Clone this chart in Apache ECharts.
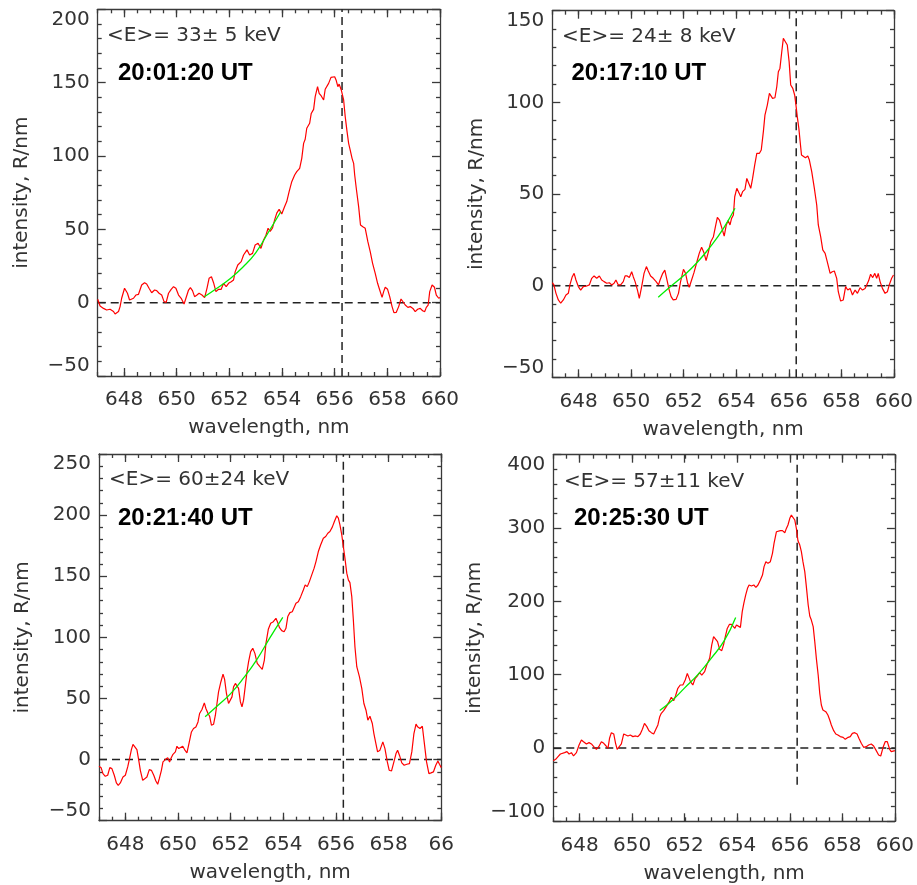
<!DOCTYPE html>
<html><head><meta charset="utf-8">
<script src="https://cdn.jsdelivr.net/npm/echarts@6/dist/echarts.min.js"></script>
<style>html,body{margin:0;padding:0;background:#fff}#c{width:917px;height:885px}</style>
</head><body><div id="c"></div>
<script>
// ---------- DATA ----------
const wl1 = [647.0,647.09,647.22,647.34,647.47,647.6,647.66,647.79,647.85,647.91,648.02,648.07,648.13,648.21,648.27,648.36,648.45,648.55,648.67,648.78,648.86,648.95,649.05,649.16,649.24,649.33,649.43,649.52,649.6,649.69,649.79,649.88,649.97,650.07,650.17,650.28,650.35,650.45,650.52,650.6,650.68,650.77,650.85,650.96,651.06,651.15,651.23,651.32,651.4,651.49,651.59,651.69,651.78,651.88,651.97,652.07,652.16,652.22,652.32,652.45,652.54,652.67,652.77,652.88,652.98,653.09,653.2,653.3,653.39,653.47,653.55,653.64,653.72,653.8,653.89,653.99,654.1,654.18,654.27,654.37,654.48,654.56,654.67,654.75,654.82,654.88,654.94,655.05,655.11,655.2,655.26,655.35,655.41,655.49,655.58,655.64,655.7,655.77,655.86,655.93,656.0,656.06,656.12,656.17,656.25,656.34,656.4,656.47,656.53,656.59,656.66,656.72,656.76,656.82,656.91,656.98,657.07,657.16,657.26,657.35,657.44,657.54,657.63,657.71,657.8,657.86,657.92,658.01,658.09,658.18,658.25,658.34,658.43,658.52,658.59,658.68,658.78,658.87,658.97,659.06,659.15,659.25,659.34,659.42,659.48,659.55,659.61,659.7,659.79,659.86,659.95,660.0];
const int1 = [2.3,-2.3,-3.9,-5,-4.5,-6,-7.7,-6,-2.7,3,9.8,10.5,6.4,1.8,0.7,3,5.2,5.7,12,13.6,12.7,9.8,6.8,8.6,8.2,6.4,5.2,0.7,0.2,6.4,9.1,10.9,9.8,5.2,3,-0.9,3,8.6,10.2,8.2,4.1,5.2,6.4,5.2,3.4,9.8,16.6,17.7,13.6,7.5,9.1,9.1,13.2,10.9,13.2,14.3,15.5,21,25.7,28,32.5,36,32.5,33.6,39.3,40.5,37,42.7,46,50.7,48.5,51,56.4,61,63.6,60.5,65.5,68.9,75.7,82.5,87,89.3,91.6,98.4,108.6,111.4,118.9,122.3,129,131.8,140.5,147.3,142.7,140.9,138.2,145.5,144.5,149.5,153.6,152.3,154,151.4,147.3,149,145,138.2,126.8,116.6,108.6,104,98.4,95,87,78,65.5,53,51.8,50.7,41.6,34.8,26.8,20,13.2,8.6,3.6,7.5,10.5,9.1,4.1,-2.7,-6.8,-6.6,-2.7,2.5,2.3,-1.6,-3.2,-2.7,-3.9,-6.1,-4.5,-3.9,-5.5,-6.1,-3.2,-1.6,7.5,12,10.5,5.2,3,3.6];

const wl2 = [647.0,647.06,647.14,647.23,647.32,647.42,647.52,647.61,647.67,647.76,647.83,647.9,647.99,648.08,648.18,648.31,648.41,648.5,648.59,648.69,648.79,648.88,648.97,649.07,649.17,649.26,649.35,649.42,649.51,649.6,649.7,649.77,649.85,649.93,650.02,650.08,650.15,650.24,650.31,650.4,650.49,650.58,650.65,650.74,650.84,650.95,651.04,651.1,651.19,651.28,651.35,651.44,651.52,651.6,651.71,651.8,651.88,651.99,652.07,652.15,652.21,652.3,652.39,652.45,652.52,652.59,652.68,652.77,652.85,652.94,653.03,653.13,653.22,653.28,653.36,653.46,653.54,653.62,653.69,653.76,653.82,653.89,653.94,654.02,654.08,654.17,654.24,654.33,654.4,654.46,654.55,654.62,654.7,654.78,654.88,654.95,655.03,655.09,655.18,655.26,655.32,655.38,655.47,655.54,655.6,655.66,655.73,655.79,655.85,655.94,656.01,656.07,656.15,656.22,656.27,656.32,656.38,656.43,656.48,656.53,656.63,656.72,656.78,656.87,656.97,657.06,657.12,657.21,657.29,657.38,657.46,657.57,657.65,657.73,657.82,657.88,657.97,658.07,658.16,658.24,658.33,658.42,658.52,658.61,658.71,658.8,658.9,658.96,659.03,659.11,659.19,659.27,659.34,659.4,659.47,659.56,659.66,659.75,659.82,659.91,659.98];
const int2 = [1.6,0.4,-4.2,-7.8,-9.6,-7.8,-5.1,-4.2,0.4,4.9,6.7,3.1,-0.5,-2.4,-0.5,-0.2,0.4,4,5.3,4,5.3,3.1,2.2,1.3,1.6,0.4,1.3,3.1,0.4,0.4,2.2,5.3,5.3,4.5,7.6,4.9,2.2,-2.4,-6.9,-0.5,6.7,10.4,8,5.3,4,2.2,0.4,3.1,6.4,8.5,4,-2,-6,-7.8,-7.5,-4.2,2.2,8.9,6.7,1.3,-0.9,3.1,7.1,6.4,14,17.6,20.9,18,13.6,18.5,24,26.7,33.1,37.3,35.8,31,27,33.1,35.5,33.1,36.7,38.5,48.5,53.1,54,48.5,51.3,52.5,58.5,57.6,53.1,58.5,65.8,72.2,72.2,74,84,93,98.5,104.9,104,102.2,102.5,108.5,116.7,118.5,127.6,134.9,133.5,131.3,122.2,109.5,107.6,104,98.5,92.2,85.8,78.5,71.3,70.4,69.8,70.7,68.5,62.2,53.1,44,33.1,26.7,19.5,17.6,13.1,6.7,7.6,8,4,-3.3,-8.4,-7.8,-0.5,-2.4,-1.5,-5.1,-2.4,-4.2,-1.1,-2.4,-1.5,-0.5,2.5,6.2,4.4,6.7,4,6.7,2.2,-1.5,-4.2,-3.3,0.4,4,5.8];

const wl3 = [647.0,647.08,647.15,647.24,647.33,647.41,647.49,647.58,647.66,647.73,647.81,647.91,648.0,648.09,648.16,648.23,648.29,648.35,648.44,648.51,648.57,648.66,648.73,648.82,648.91,648.99,649.08,649.16,649.23,649.29,649.37,649.43,649.52,649.61,649.68,649.73,649.81,649.9,649.96,650.03,650.09,650.18,650.25,650.34,650.43,650.51,650.59,650.68,650.76,650.82,650.91,651.0,651.06,651.14,651.2,651.27,651.35,651.42,651.48,651.54,651.63,651.71,651.77,651.84,651.92,651.99,652.05,652.11,652.18,652.24,652.3,652.37,652.43,652.49,652.56,652.62,652.68,652.76,652.84,652.92,653.01,653.11,653.2,653.28,653.34,653.43,653.52,653.62,653.72,653.79,653.85,653.94,654.03,654.1,654.17,654.25,654.34,654.41,654.48,654.57,654.66,654.76,654.83,654.91,654.99,655.08,655.17,655.24,655.33,655.42,655.52,655.61,655.69,655.77,655.86,655.94,656.03,656.09,656.15,656.22,656.28,656.34,656.41,656.47,656.53,656.6,656.66,656.72,656.79,656.89,656.98,657.06,657.14,657.21,657.29,657.38,657.44,657.52,657.58,657.67,657.78,657.86,657.95,658.02,658.11,658.2,658.28,658.34,658.41,658.5,658.59,658.69,658.79,658.88,658.96,659.04,659.1,659.19,659.28,659.35,659.44,659.53,659.61,659.7,659.79,659.87,659.93,660.0];
const int3 = [-5.5,-6.6,-11.5,-13.7,-12.8,-6.6,-7.4,-12.8,-19.1,-21.1,-19.1,-14.2,-12.8,-6,0.8,8.2,12.5,11.7,8.2,-0.6,-8.8,-17,-17.5,-14.2,-8.2,-8.8,-12.8,-17.5,-20.2,-15.6,-8.8,-1.9,0,1.6,-1.9,0.8,4.3,6.3,10.9,9,10.4,10.9,8.2,5.4,14.4,22.6,25.4,26.7,30.8,37.7,41,46.4,41.8,37.7,35.5,28.1,28.9,36.3,45.9,55.4,63.7,69.9,65.6,54.1,45.9,44.5,51.3,59.5,62.3,61.7,58.2,47.2,43.1,48.6,60.9,71.8,80,88.3,91,86.9,78.7,76,73.8,81.4,95.1,106.6,111.5,112.8,115.6,112,108.2,105.5,104.6,107.4,117,120.2,121,122.4,127.9,129.2,133.3,138.8,142.9,141.5,145.6,151.1,156.6,162,170.2,175.7,181.1,182.5,185.2,186.6,190.2,194.8,199.5,197.5,192,183.9,174.3,164.8,152.5,147,144.8,133.3,114.2,92.3,76,67.8,58.2,45.9,40.4,32.2,35.5,29.5,21.3,12.6,6.3,7.7,14.5,9,-1.9,-8.7,-9.3,-1.9,4.9,7.7,3.6,-2.7,-4.6,-3.8,-3.3,6.3,21.3,29,26.8,25.4,27.3,14.5,-1.9,-11.5,-10.9,-10.1,-4.6,-1.1,-3.8,-6.6];

const wl4 = [647.0,647.09,647.18,647.27,647.34,647.43,647.52,647.6,647.69,647.77,647.88,647.98,648.07,648.15,648.26,648.36,648.45,648.54,648.64,648.73,648.83,648.92,649.01,649.08,649.14,649.21,649.3,649.37,649.43,649.5,649.59,649.68,649.75,649.84,649.93,650.03,650.13,650.22,650.31,650.39,650.47,650.56,650.64,650.73,650.82,650.89,650.98,651.05,651.11,651.2,651.3,651.39,651.49,651.58,651.65,651.74,651.83,651.93,652.02,652.1,652.16,652.22,652.31,652.4,652.48,652.57,652.65,652.76,652.84,652.95,653.03,653.1,653.17,653.25,653.33,653.41,653.48,653.55,653.62,653.7,653.78,653.85,653.91,653.97,654.03,654.12,654.19,654.25,654.32,654.39,654.45,654.54,654.63,654.71,654.79,654.88,654.96,655.02,655.09,655.17,655.26,655.34,655.4,655.49,655.55,655.64,655.72,655.81,655.87,655.93,656.0,656.06,656.12,656.19,656.25,656.31,656.38,656.44,656.5,656.57,656.63,656.7,656.76,656.82,656.89,656.95,657.01,657.08,657.14,657.2,657.26,657.37,657.45,657.52,657.58,657.67,657.75,657.83,657.92,658.03,658.11,658.22,658.3,658.38,658.47,658.56,658.63,658.72,658.81,658.91,659.0,659.1,659.19,659.29,659.38,659.46,659.55,659.63,659.71,659.8,659.86,659.93,660.0];
const int4 = [-17.3,-15.5,-11.8,-8.2,-9.5,-6.4,-5,-8.2,-6.4,-10.9,-6.4,4.1,10.9,8.6,5.5,7.3,5.5,1.8,-1.8,1.8,8.6,6.4,2.7,-0.5,13.2,20.9,19.1,6.4,-1.8,-1.8,5.5,19.1,20.9,16.4,17.7,15.5,16.4,15.5,19.1,25.5,33.6,29.1,23.6,20.9,19.1,24.5,31.4,42.7,47.3,50.9,56.4,61.8,69.1,64.5,70.9,81.4,85.9,85.9,92.7,101.8,99.5,90.5,85.9,95,98.2,102.7,99.5,104.1,113.2,122.3,140.5,151.8,154.1,145,134.5,132.7,141,152.5,163,168.5,168.6,166,163.2,167.7,165.5,164.5,185.9,197.3,208.6,217.7,222.3,220.9,222.3,219.1,222.3,229.1,235.9,247.3,254.1,251.8,254.1,265.5,279.1,294.9,297.3,296.4,296.4,293.6,299.5,304.1,313.2,317.7,316.4,310.9,299.5,282.7,276.8,267.7,254.1,240.5,220,195,180,174.5,165.5,145,122.3,99.5,74.5,58.6,51.8,49.5,45,38.2,31.4,23.6,19.1,17.7,15.5,14.5,11.8,14.5,15.5,20,20.9,19.1,13.2,6.4,0.9,1.8,4.1,5.5,2.7,-3.6,-9.5,-10.9,0.9,8.6,8.6,-1.8,-5,-2.7,-3.6];

// green fitted curves
const fitWl1 = [651.05,651.5,652.0,652.5,653.0,653.5,653.95];
const fitInt1 = [4,9.5,16,24,34,48.5,62];
const fitWl2 = [651.03,651.5,652.0,652.5,653.0,653.5,653.95];
const fitInt2 = [-6.3,-0.5,5.5,12.5,21,31,42.2];
const fitWl3 = [651.03,651.5,652.0,652.5,653.0,653.5,653.98];
const fitInt3 = [35,44,54,67,82,100,116.4];
const fitWl4 = [651.05,651.5,652.0,652.5,653.0,653.5,653.94];
const fitInt4 = [51,64,82,100,122,146,178];

const xMin = 647, xMax = 660;
const xTickValues = [648,650,652,654,656,658,660];
const xTickLabels = [
  ['648','650','652','654','656','658','660'],
  ['648','650','652','654','656','658','660'],
  ['648','650','652','654','656','658','66'],
  ['648','650','652','654','656','658','660']
];
const xMinorStep = 0.5;
const yMins = [-50,-50,-50,-100];
const yMaxs = [200,150,250,400];
const ySteps = [50,50,50,100];
const energyLabels = ['<E>= 33± 5 keV','<E>= 24± 8 keV','<E>= 60±24 keV','<E>= 57±11 keV'];
const timeLabels = ['20:01:20 UT','20:17:10 UT','20:21:40 UT','20:25:30 UT'];
const refWavelength = 656.28;
const refLineLow = [-50,-50,-50,-50];
const refLineHigh = [200,150,250,400];
const xAxisName = 'wavelength, nm';
const yAxisName = 'intensity, R/nm';

// ---------- LAYOUT / STYLE ----------
const boxes = [
  {left:97.7, top:9.3, width:342.3, height:366.7},
  {left:552.3, top:10.7, width:341.7, height:366.6},
  {left:99, top:454, width:342.3, height:366.7},
  {left:553.3, top:454.7, width:342, height:366.6}
];
const textPos = [
  {ex:107, ey:36, tx:118, ty:73.5},
  {ex:562, ey:37, tx:571.5, ty:73.5},
  {ex:109, ey:480, tx:118, ty:518.5},
  {ex:564, ey:481.5, tx:574, ty:518.5}
];
const axisColor = '#3a3a3a';
const labelFont = 'DejaVu Sans';
const lineStyleAxis = {color: axisColor, width: 1.3};
const dashStyle = {color:'#222', width:1.5, type:[8,5]};
const minus = v => (v < 0 ? '\u2212' + Math.abs(v) : String(v));

const allWl = [wl1, wl2, wl3, wl4];
const allInt = [int1, int2, int3, int4];
const allFitWl = [fitWl1, fitWl2, fitWl3, fitWl4];
const allFitInt = [fitInt1, fitInt2, fitInt3, fitInt4];

const grid = [], xAxis = [], yAxis = [], series = [], graphic = [];
for (let i = 0; i < 4; i++) {
  const b = boxes[i];
  grid.push(Object.assign({containLabel:false}, b));
  grid.push(Object.assign({containLabel:false}, b));
  const gMain = 2*i, gMinor = 2*i + 1;
  const labels = xTickLabels[i];
  xAxis.push({
    type:'value', gridIndex:gMain, position:'bottom', min:xMin, max:xMax,
    axisLine:{show:true, onZero:false, lineStyle:lineStyleAxis},
    axisTick:{show:true, inside:true, length:8, customValues:xTickValues, lineStyle:lineStyleAxis},
    axisLabel:{show:true, customValues:xTickValues, margin:14, color:'#333', fontSize:20, fontFamily:labelFont,
      formatter: v => { const k = xTickValues.indexOf(Math.round(v)); return k >= 0 ? labels[k] : ''; }},
    splitLine:{show:false},
    name:xAxisName, nameLocation:'middle', nameGap:42,
    nameTextStyle:{color:'#333', fontSize:20, fontFamily:labelFont}
  });
  xAxis.push({
    type:'value', gridIndex:gMain, position:'top', min:xMin, max:xMax,
    axisLine:{show:true, onZero:false, lineStyle:lineStyleAxis},
    axisTick:{show:true, inside:true, length:8, customValues:xTickValues, lineStyle:lineStyleAxis},
    axisLabel:{show:false}, splitLine:{show:false}
  });
  xAxis.push({
    type:'value', gridIndex:gMinor, position:'bottom', min:xMin, max:xMax, interval:xMinorStep,
    axisLine:{show:false, onZero:false},
    axisTick:{show:true, inside:true, length:4, lineStyle:lineStyleAxis},
    axisLabel:{show:false}, splitLine:{show:false}
  });
  xAxis.push({
    type:'value', gridIndex:gMinor, position:'top', min:xMin, max:xMax, interval:xMinorStep,
    axisLine:{show:false, onZero:false},
    axisTick:{show:true, inside:true, length:4, lineStyle:lineStyleAxis},
    axisLabel:{show:false}, splitLine:{show:false}
  });
  yAxis.push({
    type:'value', gridIndex:gMain, position:'left', min:yMins[i], max:yMaxs[i], interval:ySteps[i],
    axisLine:{show:true, onZero:false, lineStyle:lineStyleAxis},
    axisTick:{show:true, inside:true, length:8, lineStyle:lineStyleAxis},
    minorTick:{show:true, splitNumber:5, length:4, lineStyle:lineStyleAxis},
    axisLabel:{show:true, margin:8, color:'#333', fontSize:20, fontFamily:labelFont, formatter:minus,
      verticalAlignMaxLabel:'top', verticalAlignMinLabel:'bottom'},
    splitLine:{show:false}, minorSplitLine:{show:false},
    name:yAxisName, nameLocation:'middle', nameGap: i === 3 ? 69 : 66,
    nameTextStyle:{color:'#333', fontSize:20, fontFamily:labelFont}
  });
  yAxis.push({
    type:'value', gridIndex:gMain, position:'right', min:yMins[i], max:yMaxs[i], interval:ySteps[i],
    axisLine:{show:true, onZero:false, lineStyle:lineStyleAxis},
    axisTick:{show:true, inside:true, length:8, lineStyle:lineStyleAxis},
    minorTick:{show:true, splitNumber:5, length:4, lineStyle:lineStyleAxis},
    axisLabel:{show:false}, splitLine:{show:false}, minorSplitLine:{show:false}
  });
  yAxis.push({
    type:'value', gridIndex:gMinor, show:false, min:yMins[i], max:yMaxs[i]
  });
  const xi = 4*i, yi = 3*i;
  series.push({
    type:'line', xAxisIndex:xi, yAxisIndex:yi, data:[[xMin,0],[xMax,0]],
    symbol:'none', silent:true, animation:false, lineStyle:dashStyle
  });
  series.push({
    type:'line', xAxisIndex:xi, yAxisIndex:yi, data:[[refWavelength,refLineLow[i]],[refWavelength,refLineHigh[i]]],
    symbol:'none', silent:true, animation:false, lineStyle:dashStyle
  });
  series.push({
    type:'line', xAxisIndex:xi, yAxisIndex:yi,
    data: allWl[i].map((w,k) => [w, allInt[i][k]]),
    symbol:'none', silent:true, animation:false, smooth:false,
    lineStyle:{color:'#ff0000', width:1.2}
  });
  series.push({
    type:'line', xAxisIndex:xi, yAxisIndex:yi,
    data: allFitWl[i].map((w,k) => [w, allFitInt[i][k]]),
    symbol:'none', silent:true, animation:false, smooth:true,
    lineStyle:{color:'#00ee00', width:1.3}
  });
  const t = textPos[i];
  graphic.push({type:'text', x:t.ex, y:t.ey, silent:true,
    style:{text:energyLabels[i], fill:'#333', font:'20px "DejaVu Sans"', align:'left', verticalAlign:'middle', textAlign:'left', textVerticalAlign:'middle'}});
  graphic.push({type:'text', x:t.tx, y:t.ty, silent:true,
    style:{text:timeLabels[i], fill:'#000', font:'bold 24px "Liberation Sans"', align:'left', verticalAlign:'middle', textAlign:'left', textVerticalAlign:'middle'}});
}

const chart = echarts.init(document.getElementById('c'), null, {renderer:'canvas', devicePixelRatio:1});
chart.setOption({
  backgroundColor:'#ffffff',
  animation:false,
  grid, xAxis, yAxis, series, graphic
});
</script>
</body></html>
